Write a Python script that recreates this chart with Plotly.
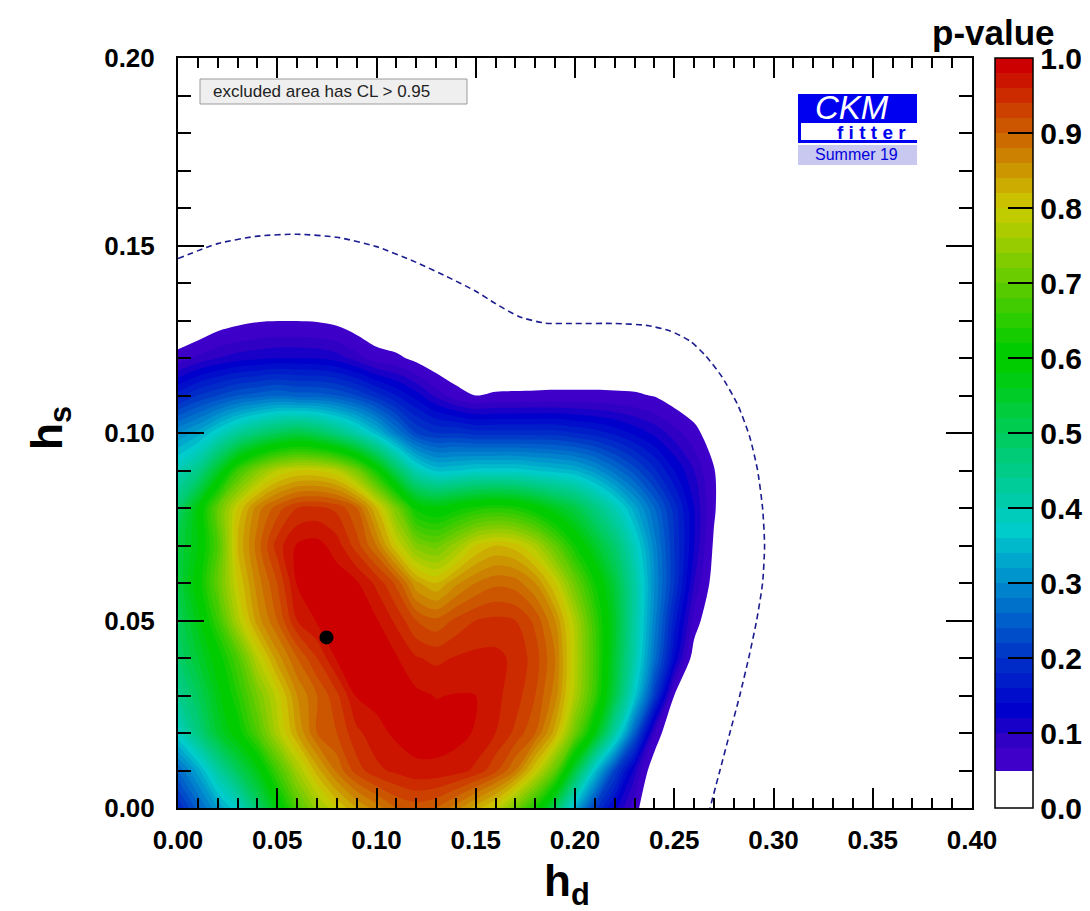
import plotly.graph_objects as go

# ---------------- data ----------------
hd_grid = [0.00, 0.01, 0.02, 0.03, 0.04, 0.05, 0.06, 0.07, 0.08, 0.09,
           0.10, 0.11, 0.12, 0.13, 0.14, 0.15, 0.16, 0.17, 0.18, 0.19,
           0.20, 0.21, 0.22, 0.23, 0.24, 0.25, 0.26, 0.27, 0.28, 0.29, 0.30]
hs_grid = [0.00, 0.01, 0.02, 0.03, 0.04, 0.05, 0.06, 0.07, 0.08, 0.09,
           0.10, 0.11, 0.12, 0.13, 0.14]

# p-value along hd (0.00 ... 0.30) for each hs row
p_hs000 = [0.18, 0.25, 0.32, 0.38, 0.48, 0.58, 0.68, 0.75, 0.80, 0.84,
           0.87, 0.90, 0.91, 0.90, 0.87, 0.83, 0.79, 0.72, 0.63, 0.50,
           0.34, 0.21, 0.13, 0.065, 0, 0, 0, 0, 0, 0, 0]
p_hs001 = [0.26, 0.33, 0.42, 0.50, 0.57, 0.67, 0.76, 0.83, 0.885, 0.93,
           0.955, 0.965, 0.975, 0.975, 0.97, 0.955, 0.925, 0.88, 0.80, 0.70,
           0.53, 0.36, 0.22, 0.11, 0.02, 0, 0, 0, 0, 0, 0]
p_hs002 = [0.38, 0.46, 0.54, 0.60, 0.68, 0.77, 0.84, 0.90, 0.92, 0.955,
           0.972, 0.985, 0.99, 0.99, 0.987, 0.978, 0.96, 0.935, 0.90, 0.83,
           0.71, 0.58, 0.42, 0.25, 0.08, 0, 0, 0, 0, 0, 0]
p_hs003 = [0.44, 0.50, 0.57, 0.64, 0.72, 0.79, 0.86, 0.90, 0.935, 0.982,
           0.988, 0.99, 0.985, 0.979, 0.981, 0.98, 0.965, 0.95, 0.92, 0.87,
           0.77, 0.66, 0.52, 0.37, 0.21, 0.05, 0, 0, 0, 0, 0]
p_hs004 = [0.48, 0.54, 0.60, 0.68, 0.78, 0.85, 0.90, 0.94, 0.983, 0.992,
           0.99, 0.982, 0.962, 0.955, 0.962, 0.966, 0.966, 0.955, 0.93, 0.88,
           0.78, 0.67, 0.54, 0.41, 0.27, 0.14, 0.03, 0, 0, 0, 0]
p_hs005 = [0.50, 0.57, 0.66, 0.77, 0.85, 0.90, 0.96, 0.982, 0.998, 0.992,
           0.982, 0.955, 0.92, 0.905, 0.925, 0.94, 0.945, 0.94, 0.915, 0.86,
           0.77, 0.66, 0.55, 0.42, 0.29, 0.17, 0.07, 0.01, 0, 0, 0]
p_hs006 = [0.52, 0.60, 0.70, 0.80, 0.87, 0.92, 0.982, 0.99, 0.992, 0.983,
           0.955, 0.915, 0.845, 0.82, 0.855, 0.88, 0.895, 0.89, 0.86, 0.80,
           0.71, 0.62, 0.53, 0.42, 0.30, 0.20, 0.10, 0.035, 0, 0, 0]
p_hs007 = [0.52, 0.58, 0.68, 0.82, 0.89, 0.95, 0.983, 0.988, 0.97, 0.93,
           0.88, 0.80, 0.73, 0.71, 0.75, 0.80, 0.82, 0.81, 0.77, 0.70,
           0.62, 0.55, 0.48, 0.39, 0.29, 0.20, 0.12, 0.045, 0, 0, 0]
p_hs008 = [0.48, 0.58, 0.70, 0.80, 0.87, 0.91, 0.94, 0.945, 0.935, 0.90,
           0.82, 0.72, 0.61, 0.59, 0.61, 0.63, 0.64, 0.63, 0.60, 0.56,
           0.52, 0.46, 0.40, 0.33, 0.26, 0.19, 0.12, 0.055, 0, 0, 0]
p_hs009 = [0.40, 0.45, 0.55, 0.66, 0.73, 0.78, 0.80, 0.80, 0.78, 0.72,
           0.62, 0.50, 0.40, 0.355, 0.36, 0.37, 0.37, 0.37, 0.36, 0.35,
           0.34, 0.31, 0.27, 0.23, 0.185, 0.14, 0.10, 0.053, 0, 0, 0]
p_hs010 = [0.30, 0.33, 0.38, 0.43, 0.47, 0.50, 0.52, 0.50, 0.46, 0.41,
           0.35, 0.28, 0.22, 0.20, 0.20, 0.19, 0.19, 0.19, 0.19, 0.19,
           0.18, 0.17, 0.155, 0.135, 0.115, 0.09, 0.065, 0.02, 0, 0, 0]
p_hs011 = [0.17, 0.20, 0.22, 0.24, 0.25, 0.26, 0.25, 0.25, 0.24, 0.22,
           0.19, 0.16, 0.13, 0.095, 0.065, 0.05, 0.055, 0.056, 0.057, 0.058,
           0.058, 0.058, 0.057, 0.055, 0.048, 0.03, 0.01, 0, 0, 0, 0]
p_hs012 = [0.065, 0.085, 0.10, 0.11, 0.115, 0.12, 0.12, 0.118, 0.11, 0.09,
           0.065, 0.058, 0.04, 0.02, 0.01, 0.005, 0.005, 0.005, 0.005, 0.005,
           0.005, 0.005, 0.005, 0.004, 0, 0, 0, 0, 0, 0, 0]
p_hs013 = [0, 0.01, 0.03, 0.04, 0.047, 0.049, 0.049, 0.047, 0.04, 0.025,
           0.015, 0, 0, 0, 0, 0, 0, 0, 0, 0,
           0, 0, 0, 0, 0, 0, 0, 0, 0, 0, 0]
p_hs014 = [0, 0, 0, 0, 0, 0, 0, 0, 0, 0,
           0, 0, 0, 0, 0, 0, 0, 0, 0, 0,
           0, 0, 0, 0, 0, 0, 0, 0, 0, 0, 0]

p_rows = [p_hs000, p_hs001, p_hs002, p_hs003, p_hs004, p_hs005, p_hs006, p_hs007,
          p_hs008, p_hs009, p_hs010, p_hs011, p_hs012, p_hs013, p_hs014]

# best-fit point
best_hd = [0.0748]
best_hs = [0.0455]

# dashed curve (other CL line)
dash_hd = [0.000, 0.020, 0.040, 0.060, 0.080, 0.100, 0.120, 0.137, 0.150, 0.160, 0.172,
           0.185, 0.200, 0.220, 0.236, 0.248, 0.258, 0.266, 0.274, 0.282, 0.288,
           0.292, 0.2945, 0.2955, 0.2945, 0.2915, 0.2875, 0.2830, 0.2780, 0.2730, 0.2680]
dash_hs = [0.1465, 0.1505, 0.1525, 0.1530, 0.1522, 0.1497, 0.1455, 0.1413, 0.1378, 0.1345, 0.1310,
           0.1293, 0.1292, 0.1292, 0.1287, 0.1272, 0.1245, 0.1205, 0.1150, 0.1075, 0.0990,
           0.0900, 0.0800, 0.0700, 0.0600, 0.0500, 0.0400, 0.0300, 0.0200, 0.0100, 0.0000]

x_ticks = [0.00, 0.05, 0.10, 0.15, 0.20, 0.25, 0.30, 0.35, 0.40]
y_ticks = [0.00, 0.05, 0.10, 0.15, 0.20]
cb_ticks = [0.0, 0.1, 0.2, 0.3, 0.4, 0.5, 0.6, 0.7, 0.8, 0.9, 1.0]
cb_labels = ["0.0", "0.1", "0.2", "0.3", "0.4", "0.5", "0.6", "0.7", "0.8", "0.9", "1.0"]

# ---------------- styling ----------------
FONT = "Liberation Sans, Arial, Helvetica, sans-serif"
PALETTE = [
    (0.05, (72, 0, 204)),
    (0.09, (48, 0, 196)),
    (0.13, (0, 0, 204)),
    (0.20, (0, 50, 200)),
    (0.30, (0, 140, 204)),
    (0.37, (0, 204, 204)),
    (0.48, (0, 204, 110)),
    (0.59, (0, 204, 0)),
    (0.61, (0, 204, 0)),
    (0.80, (204, 204, 0)),
    (0.99, (204, 0, 0)),
    (1.00, (204, 0, 0)),
]


def pal(v):
    c = PALETTE[-1][1]
    if v <= PALETTE[0][0]:
        c = PALETTE[0][1]
    else:
        for (a, ca), (b, cb) in zip(PALETTE[:-1], PALETTE[1:]):
            if a <= v <= b:
                t = (v - a) / (b - a)
                c = tuple(round(ca[k] + t * (cb[k] - ca[k])) for k in range(3))
                break
    return "rgb(%d,%d,%d)" % c


CL_LEVEL = 0.05
START, STEP, END = 0.06, 0.02, 0.985
levels = []
lv = START
while lv <= END + 1e-9:
    levels.append(round(lv, 4))
    lv += STEP
nc = len(levels)
lo_dom = START - STEP / 2
hi_dom = START + (nc - 0.5) * STEP
TRANSP = "rgba(255,255,255,0)"
main_scale = [[0.0, TRANSP], [0.5 * STEP / (hi_dom - lo_dom), TRANSP]]
for L in levels:
    mid = L + STEP / 2
    s = (mid - lo_dom) / (hi_dom - lo_dom)
    main_scale.append([min(1.0, s), pal(mid)])
main_scale[-1][0] = 1.0

SMOOTH = 0.9
fig = go.Figure()

# 0.05 - 0.06 band (bottom layer)
fig.add_trace(go.Contour(
    x=hd_grid, y=hs_grid, z=p_rows, autocontour=False,
    contours=dict(start=CL_LEVEL, end=CL_LEVEL + 0.005, size=0.01, coloring="fill", showlines=False),
    colorscale=[[0, TRANSP], [1, pal(0.065)]],
    line=dict(width=0, smoothing=SMOOTH), showscale=False, hoverinfo="skip"))

# main bands
fig.add_trace(go.Contour(
    x=hd_grid, y=hs_grid, z=p_rows, autocontour=False,
    contours=dict(start=START, end=END, size=STEP, coloring="fill", showlines=False),
    colorscale=main_scale,
    line=dict(width=0, smoothing=SMOOTH), showscale=False, hoverinfo="skip"))

# dashed line
fig.add_trace(go.Scatter(x=dash_hd, y=dash_hs, mode="lines",
                         line=dict(color="#1c1c8e", width=1.6, dash="6px,4px", shape="spline", smoothing=0.6),
                         hoverinfo="skip"))

# best fit point
fig.add_trace(go.Scatter(x=best_hd, y=best_hs, mode="markers",
                         marker=dict(color="black", size=14), hoverinfo="skip"))

# colorbar (stepped)
edges = [0.0, CL_LEVEL, 0.08] + [round(0.10 + 0.02 * k, 2) for k in range(45)]
edges = [e for e in edges if e <= 1.0]
if edges[-1] < 1.0:
    edges.append(1.0)
cb_scale = [[0.0, "white"], [CL_LEVEL, "white"]]
for a, b in zip(edges[1:-1], edges[2:]):
    col = pal((a + b) / 2)
    cb_scale.append([a, col])
    cb_scale.append([b, col])

PX0, PX1, PY0, PY1 = 178, 972, 58, 808


def px(x):
    return (x - PX0) / (PX1 - PX0)


def py(y):
    return (PY1 - y) / (PY1 - PY0)


fig.add_trace(go.Scatter(
    x=[1.0], y=[1.0], mode="markers", hoverinfo="skip",
    marker=dict(size=1, color=[0.5], colorscale=cb_scale, cmin=0, cmax=1, showscale=True,
                colorbar=dict(
                    x=px(995), xanchor="left", y=0.5, yanchor="middle",
                    len=1, lenmode="fraction", thickness=38, thicknessmode="pixels",
                    xpad=0, ypad=0, outlinewidth=1.5, outlinecolor="black",
                    tickvals=cb_ticks, ticktext=cb_labels, ticks="inside", ticklen=25,
                    tickwidth=1.5, tickcolor="black",
                    tickfont=dict(family=FONT, size=30, color="black", weight="bold")))))

axis_common = dict(showgrid=False, zeroline=False, showline=True, linecolor="black", linewidth=2,
                   mirror="allticks", ticks="inside", tickwidth=1.5, tickcolor="black",
                   tickfont=dict(family=FONT, size=26, color="black", weight="bold"))

fig.update_xaxes(range=[0, 0.4], tickvals=x_ticks, tickformat=".2f", ticklen=20,
                 minor=dict(dtick=0.01, tick0=0, ticks="inside", ticklen=10, tickwidth=1.5,
                            tickcolor="black", showgrid=False),
                 ticklabelstandoff=8, **axis_common)
fig.update_yaxes(range=[0, 0.2], tickvals=y_ticks, tickformat=".2f", ticklen=26,
                 minor=dict(dtick=0.01, tick0=0, ticks="inside", ticklen=13, tickwidth=1.5,
                            tickcolor="black", showgrid=False),
                 ticklabelstandoff=16, **axis_common)

shapes = [
    dict(type="rect", xref="paper", yref="paper", x0=px(200), x1=px(467), y0=py(104), y1=py(79),
         fillcolor="#efefef", line=dict(color="#9a9a9a", width=1)),
    dict(type="rect", xref="paper", yref="paper", x0=px(798), x1=px(917), y0=py(143), y1=py(94),
         fillcolor="#0000f0", line=dict(width=0)),
    dict(type="rect", xref="paper", yref="paper", x0=px(801), x1=px(917), y0=py(140), y1=py(123),
         fillcolor="white", line=dict(width=0)),
    dict(type="rect", xref="paper", yref="paper", x0=px(798), x1=px(917), y0=py(165), y1=py(145),
         fillcolor="#c8c8f0", line=dict(width=0)),
]

NB = "\u00a0"
annotations = [
    dict(text="excluded area has CL > 0.95", x=px(211), y=py(91.5), xref="paper", yref="paper",
         xanchor="left", yanchor="middle", showarrow=False,
         font=dict(family=FONT, size=17, color="#222222")),
    dict(text="<i>CKM</i>", x=px(852), y=py(108), xref="paper", yref="paper",
         xanchor="center", yanchor="middle", showarrow=False,
         font=dict(family=FONT, size=33, color="white")),
    dict(text=NB.join("fitter"), x=px(871), y=py(132), xref="paper", yref="paper",
         xanchor="center", yanchor="middle", showarrow=False,
         font=dict(family=FONT, size=19, color="#0000f0", weight="bold")),
    dict(text="Summer 19", x=px(856), y=py(155), xref="paper", yref="paper",
         xanchor="center", yanchor="middle", showarrow=False,
         font=dict(family=FONT, size=16, color="#0000dd")),
    dict(text="p-value", x=px(993), y=py(32), xref="paper", yref="paper",
         xanchor="center", yanchor="middle", showarrow=False,
         font=dict(family=FONT, size=35, color="black", weight="bold")),
    dict(text="h<sub>d</sub>", x=px(567), y=py(884), xref="paper", yref="paper",
         xanchor="center", yanchor="middle", showarrow=False,
         font=dict(family=FONT, size=44, color="black", weight="bold")),
    dict(text="h<sub>s</sub>", x=px(50), y=py(428), xref="paper", yref="paper",
         xanchor="center", yanchor="middle", showarrow=False, textangle=-90,
         font=dict(family=FONT, size=44, color="black", weight="bold")),
]

fig.update_layout(width=1090, height=911,
                  margin=dict(l=PX0, r=1090 - PX1, t=PY0, b=911 - PY1, autoexpand=False),
                  paper_bgcolor="white", plot_bgcolor="white", showlegend=False,
                  font=dict(family=FONT), shapes=shapes, annotations=annotations)

fig.write_html("out.html")
